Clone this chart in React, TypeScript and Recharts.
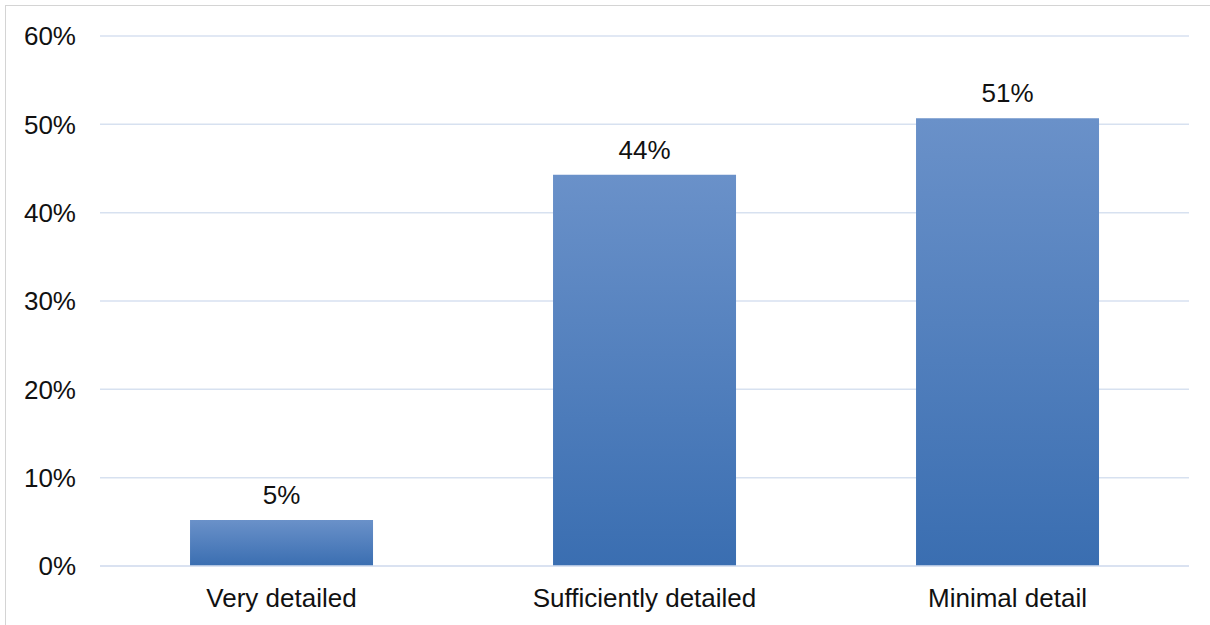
import { BarChart, Bar, XAxis, YAxis, CartesianGrid, LabelList } from "recharts";

const categories = ["Very detailed", "Sufficiently detailed", "Minimal detail"];
const shares = [5.2, 44.3, 50.7];
const shareLabels = ["5%", "44%", "51%"];
const yTicks = [0, 10, 20, 30, 40, 50, 60];

const data = categories.map((name, i) => ({ name, share: shares[i], label: shareLabels[i] }));

const font = "Arial, 'Liberation Sans', sans-serif";

export default function App() {
  return (
    <div style={{ position: "absolute", left: 0, top: 0, width: 1210, height: 625, background: "#fff", fontFamily: font }}>
      <div
        style={{
          position: "absolute",
          left: 5,
          top: 5,
          width: 1205,
          height: 620,
          borderLeft: "1px solid #d4d4d4",
          borderTop: "1px solid #d4d4d4",
        }}
      />
      <div style={{ position: "absolute", left: 0, top: 0 }}>
        <BarChart
          width={1210}
          height={625}
          data={data}
          margin={{ top: 36, right: 21, bottom: 0, left: 0 }}
          barCategoryGap="24.8%"
        >
          <defs>
            <linearGradient id="barFill" x1="0" y1="0" x2="0" y2="1">
              <stop offset="0%" stopColor="#6a91c9" />
              <stop offset="100%" stopColor="#3a6eb1" />
            </linearGradient>
          </defs>
          <CartesianGrid vertical={false} stroke="#d7e1f0" strokeWidth={1.5} />
          <XAxis
            dataKey="name"
            height={59}
            tickLine={false}
            tickSize={0}
            tickMargin={23}
            axisLine={{ stroke: "#d7e1f0", strokeWidth: 1.5 }}
            tick={{ fill: "#111", fontSize: 26, fontFamily: font }}
          />
          <YAxis
            width={100}
            domain={[0, 60]}
            ticks={yTicks}
            interval={0}
            tickFormatter={(v: number) => `${v}%`}
            axisLine={false}
            tickLine={false}
            tickSize={0}
            tickMargin={24}
            tick={{ fill: "#111", fontSize: 26, fontFamily: font }}
          />
          <Bar dataKey="share" fill="url(#barFill)" isAnimationActive={false}>
            <LabelList
              dataKey="label"
              position="top"
              offset={16}
              fill="#111"
              fontSize={26}
              fontFamily={font}
            />
          </Bar>
        </BarChart>
      </div>
    </div>
  );
}
